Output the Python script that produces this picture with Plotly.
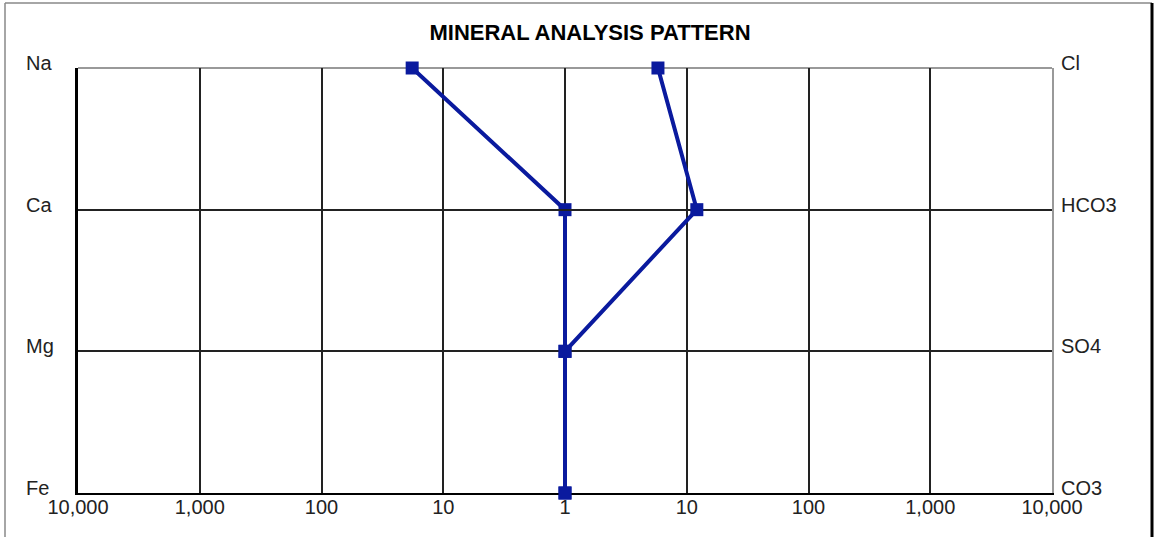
import plotly.graph_objects as go

# ---- data (meq/l) ----
cations = ["Na", "Ca", "Mg", "Fe"]
cation_values = [18, 1.0, 1.0, 1.0]
anions = ["Cl", "HCO3", "SO4", "CO3"]
anion_values = [5.8, 12.1, 1.0, 1.0]
left_ticks = [10000, 1000, 100, 10, 1]
right_ticks = [10, 100, 1000, 10000]

W, H = 1155, 537
L, R, T, B = 78, 1052, 68, 493
LINE = "#0a1a9e"
FONT = "Liberation Sans, Arial, sans-serif"
EPS = 0.01                  # small domain overlap so centre lines are not clipped
EPS_DEC = EPS / 0.5 * 4     # same overlap in decades


def px_x(p):
    return (p - L) / (R - L)


def px_y(p):
    return (B - p) / (B - T)


fig = go.Figure()
fig.add_trace(go.Scatter(
    x=cation_values, y=cations, xaxis="x", yaxis="y",
    mode="lines+markers", cliponaxis=False, showlegend=False, hoverinfo="skip",
    line=dict(color=LINE, width=4),
    marker=dict(symbol="square", size=13, color=LINE),
))
fig.add_trace(go.Scatter(
    x=anion_values, y=anions, xaxis="x2", yaxis="y2",
    mode="lines+markers", cliponaxis=False, showlegend=False, hoverinfo="skip",
    line=dict(color=LINE, width=4),
    marker=dict(symbol="square", size=13, color=LINE),
))

tickfont = dict(family=FONT, size=20, color="#222")
axis_common = dict(showgrid=True, gridcolor="#222", gridwidth=1.5,
                   zeroline=False, ticks="", tickfont=tickfont, fixedrange=True,
                   layer="below traces")

fig.update_layout(
    width=W, height=H,
    margin=dict(l=L, r=W - R, t=T, b=H - B),
    paper_bgcolor="white", plot_bgcolor="rgba(0,0,0,0)",
    title=dict(text="<b>MINERAL ANALYSIS PATTERN</b>", x=590 / W,
               xanchor="center", xref="container",
               y=1 - 32 / H, yanchor="middle",
               font=dict(family=FONT, size=22, color="black")),
    xaxis=dict(type="log", domain=[0, 0.5 + EPS], range=[4, -EPS_DEC], anchor="y",
               tickvals=left_ticks, ticktext=[f"{v:,}" for v in left_ticks],
               showline=True, linecolor="black", linewidth=2,
               ticklabelstandoff=-5, **axis_common),
    xaxis2=dict(type="log", domain=[0.5 - EPS, 1], range=[-EPS_DEC, 4], anchor="y2",
                tickvals=right_ticks, ticktext=[f"{v:,}" for v in right_ticks],
                showline=True, linecolor="black", linewidth=2,
                ticklabelstandoff=-5, **axis_common),
    yaxis=dict(type="category", categoryorder="array",
               categoryarray=cations[::-1], range=[0, 3], anchor="x",
               showline=True, linecolor="black", linewidth=2.5,
               showticklabels=False, **axis_common),
    yaxis2=dict(type="category", categoryorder="array",
                categoryarray=anions[::-1], range=[0, 3], anchor="x2",
                side="right", showline=True, linecolor="#999", linewidth=2,
                showticklabels=False, **axis_common),
)

# ion labels, placed on the category axes, slightly above their lines
for name in cations:
    fig.add_annotation(text=name, xref="paper", yref="y", x=px_x(24), y=name,
                       xanchor="left", yanchor="middle", yshift=5, showarrow=False,
                       font=tickfont)
for name in anions:
    fig.add_annotation(text=name, xref="paper", yref="y2", x=px_x(1059), y=name,
                       xanchor="left", yanchor="middle", yshift=5, showarrow=False,
                       font=tickfont)

# top edge of the plot frame (gray)
fig.add_shape(type="line", xref="paper", yref="paper", layer="below",
              x0=0, x1=1, y0=1, y1=1, line=dict(color="#999", width=2))

# outer frame of the figure
fig.add_shape(type="line", xref="paper", yref="paper",
              x0=px_x(5), x1=px_x(5), y0=px_y(3), y1=px_y(545),
              line=dict(color="#888", width=1.5))
fig.add_shape(type="line", xref="paper", yref="paper",
              x0=px_x(5), x1=px_x(1152), y0=px_y(3), y1=px_y(3),
              line=dict(color="#888", width=1.5))
fig.add_shape(type="line", xref="paper", yref="paper",
              x0=px_x(1152), x1=px_x(1152), y0=px_y(3), y1=px_y(545),
              line=dict(color="black", width=3))

fig.write_html("out.html", config={"displayModeBar": False},
               post_script="document.body.style.margin='0';")
